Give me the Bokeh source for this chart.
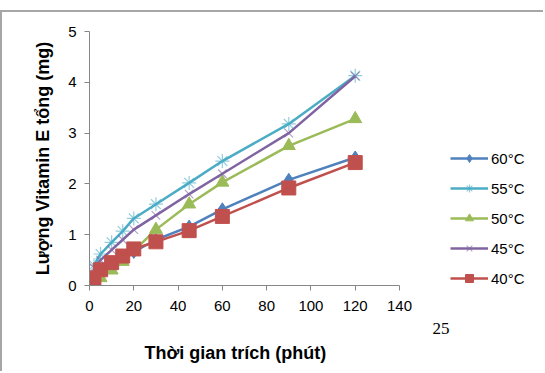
from bokeh.plotting import figure
from bokeh.models import Range1d, Legend, LegendItem, Title, FixedTicker
from bokeh.embed import file_html
from bokeh.resources import INLINE

time_min = [2, 5, 10, 15, 20, 30, 45, 60, 90, 120]
t60 = [0.20, 0.30, 0.45, 0.55, 0.66, 0.90, 1.16, 1.50, 2.08, 2.52]
t55 = [0.40, 0.62, 0.85, 1.07, 1.32, 1.60, 2.02, 2.45, 3.18, 4.13]
t50 = [0.05, 0.15, 0.30, 0.47, 0.68, 1.10, 1.60, 2.03, 2.75, 3.28]
t45 = [0.35, 0.50, 0.70, 0.90, 1.10, 1.38, 1.80, 2.20, 3.00, 4.12]
t40 = [0.15, 0.31, 0.45, 0.58, 0.72, 0.86, 1.08, 1.36, 1.92, 2.42]
labels = ["60°C", "55°C", "50°C", "45°C", "40°C"]
x_ticks = [0, 20, 40, 60, 80, 100, 120, 140]
y_ticks = [0, 1, 2, 3, 4, 5]
x_max = 140
x_view_end = 140 * 456 / 310   # frame also holds the legend to the right of the axis

p = figure(width=543, height=361, output_backend="svg", toolbar_location=None,
           x_range=Range1d(0, x_view_end), y_range=Range1d(0, 5),
           min_border_left=87, min_border_right=0, min_border_top=19, min_border_bottom=88)
p.styles = {"border-top": "2px solid #a6a6a6", "border-left": "2px solid #a6a6a6",
            "margin-top": "10px"}
p.outline_line_color = None
p.xgrid.visible = False
p.ygrid.visible = False

font = "Liberation Sans"
for ax in (p.xaxis[0], p.yaxis[0]):
    ax.axis_line_color = "#868686"
    ax.major_tick_line_color = "#868686"
    ax.minor_tick_line_color = None
    ax.major_tick_in = 0
    ax.major_tick_out = 5
    ax.major_label_text_font = font
    ax.major_label_text_font_size = "15px"
    ax.major_label_text_color = "#000000"
    ax.axis_label_text_font = font
    ax.axis_label_text_font_size = "18px"
    ax.axis_label_text_font_style = "bold"
    ax.axis_label_text_color = "#000000"

p.xaxis.bounds = (0, x_max)
p.xaxis.ticker = FixedTicker(ticks=x_ticks)
p.yaxis.ticker = FixedTicker(ticks=y_ticks)
p.yaxis.axis_label = "Lượng Vitamin E tổng (mg)"
p.xaxis.major_label_standoff = 10
p.yaxis.major_label_standoff = 8
p.yaxis.axis_label_standoff = 12

colors = ["#4F81BD", "#4BACC6", "#9BBB59", "#8064A2", "#C0504D"]
series = [t60, t55, t50, t45, t40]
markers = ["diamond", "asterisk", "triangle", "x", "square"]
sizes = [13, 14, 13, 12, 14]

items = []
for lab, ys, c, m, s in zip(labels, series, colors, markers, sizes):
    l = p.line(time_min, ys, line_color=c, line_width=2.5)
    if m in ("asterisk", "x"):
        mk = p.scatter(time_min, ys, marker=m, size=s, line_color=c, line_alpha=0.6, line_width=1.2)
    else:
        mk = p.scatter(time_min, ys, marker=m, size=s, fill_color=c, line_color=c)
    items.append(LegendItem(label=lab, renderers=[l, mk]))

legend = Legend(items=items, location=(361, -3), orientation="vertical")
legend.border_line_color = None
legend.background_fill_alpha = 0
legend.padding = 0
legend.margin = 0
legend.spacing = 10
legend.glyph_width = 38
legend.glyph_height = 20
legend.label_height = 20
legend.label_standoff = 3
legend.label_text_font = font
legend.label_text_font_size = "15px"
legend.label_text_color = "#000000"
p.add_layout(legend, "center")

p.add_layout(Title(text="25", align="left", offset=343, text_font="Liberation Serif",
                   text_font_size="17px", text_font_style="normal", text_color="#000000",
                   standoff=14), "below")
p.add_layout(Title(text="Thời gian trích (phút)", align="left", offset=55, text_font=font,
                   text_font_size="18px", text_font_style="bold", text_color="#000000",
                   standoff=0), "below")

open("out.html", "w").write(file_html(p, INLINE))
